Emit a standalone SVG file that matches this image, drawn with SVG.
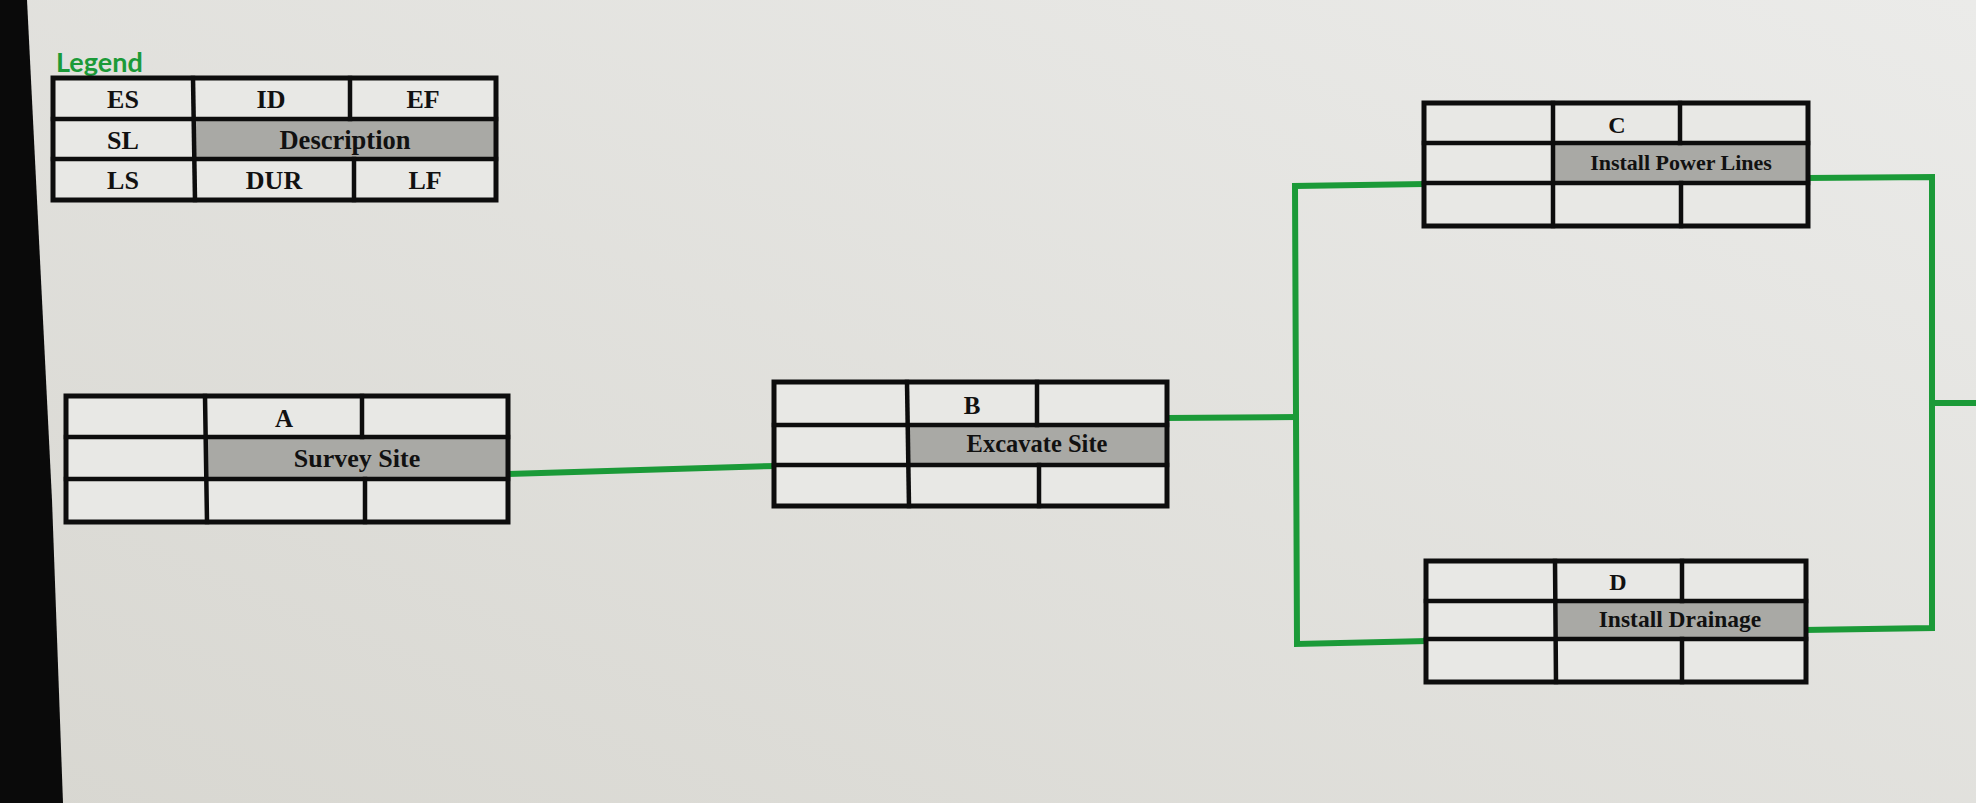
<svg xmlns="http://www.w3.org/2000/svg" width="1976" height="803" viewBox="0 0 1976 803">
<defs>
<linearGradient id="bg" x1="1" y1="0" x2="0" y2="1">
<stop offset="0" stop-color="#ebebe9"/>
<stop offset="1" stop-color="#d8d7d1"/>
</linearGradient>
<style>
.cell{fill:#e8e8e5;stroke:none}
.desc{fill:#a9a9a5;stroke:none}
.ln{stroke:#0d0d0d;stroke-width:4.5;fill:none;stroke-linecap:square}
.box{fill:none;stroke:#0d0d0d;stroke-width:5}
.t{font-family:"Liberation Serif","Times New Roman",serif;font-weight:bold;fill:#111;text-anchor:middle}
.conn{fill:none;stroke:#1b9a38;stroke-width:6;stroke-linejoin:miter;stroke-linecap:square}
</style>
</defs>
<rect x="0" y="0" width="1976" height="803" fill="url(#bg)"/>
<polygon points="0,0 27,0 52,500 63,803 0,803" fill="#0a0a0a"/>

<text x="56" y="72" font-family="Lato,'Open Sans',sans-serif" font-weight="bold" font-size="27" fill="#1b9a38">Legend</text>

<g id="legend">
<rect class="cell" x="53" y="78" width="443" height="122"/>
<rect class="desc" x="193" y="119" width="303" height="40"/>
<line class="ln" x1="53" y1="119" x2="496" y2="119"/>
<line class="ln" x1="53" y1="159" x2="496" y2="159"/>
<line class="ln" x1="193" y1="78" x2="195" y2="200"/>
<line class="ln" x1="350" y1="78" x2="350" y2="119"/>
<line class="ln" x1="354" y1="159" x2="354" y2="200"/>
<rect class="box" x="53" y="78" width="443" height="122"/>
<text class="t" x="123" y="108" font-size="26">ES</text>
<text class="t" x="271" y="108" font-size="26">ID</text>
<text class="t" x="423" y="108" font-size="26">EF</text>
<text class="t" x="123" y="149" font-size="26">SL</text>
<text class="t" x="345" y="149" font-size="26.5">Description</text>
<text class="t" x="123" y="189" font-size="26">LS</text>
<text class="t" x="274" y="189" font-size="26">DUR</text>
<text class="t" x="425" y="189" font-size="26">LF</text>
</g>

<g id="connectors">
<path class="conn" d="M508,474 L774,466"/>
<path class="conn" d="M1167,418 L1295,417"/>
<path class="conn" d="M1424,184 L1295,186 L1297,644 L1425,641"/>
<path class="conn" d="M1808,178 L1932,177 L1932,628 L1806,630"/>
<path class="conn" d="M1932,403 L1976,403"/>
</g>

<g id="node-A">
<rect class="cell" x="66" y="396" width="442" height="126"/>
<rect class="desc" x="205" y="437" width="303" height="42"/>
<line class="ln" x1="66" y1="437" x2="508" y2="437"/>
<line class="ln" x1="66" y1="479" x2="508" y2="479"/>
<line class="ln" x1="205" y1="396" x2="207" y2="522"/>
<line class="ln" x1="362" y1="396" x2="362" y2="437"/>
<line class="ln" x1="365" y1="479" x2="365" y2="522"/>
<rect class="box" x="66" y="396" width="442" height="126"/>
<text class="t" x="284" y="427" font-size="25">A</text>
<text class="t" x="357" y="467" font-size="26">Survey Site</text>
</g>

<g id="node-B">
<rect class="cell" x="774" y="382" width="393" height="124"/>
<rect class="desc" x="907" y="425" width="260" height="40"/>
<line class="ln" x1="774" y1="425" x2="1167" y2="425"/>
<line class="ln" x1="774" y1="465" x2="1167" y2="465"/>
<line class="ln" x1="907" y1="382" x2="909" y2="506"/>
<line class="ln" x1="1037" y1="382" x2="1037" y2="425"/>
<line class="ln" x1="1039" y1="465" x2="1039" y2="506"/>
<rect class="box" x="774" y="382" width="393" height="124"/>
<text class="t" x="972" y="414" font-size="25">B</text>
<text class="t" x="1037" y="452" font-size="24.5">Excavate Site</text>
</g>

<g id="node-C">
<rect class="cell" x="1424" y="103" width="384" height="123"/>
<rect class="desc" x="1553" y="143" width="255" height="40"/>
<line class="ln" x1="1424" y1="143" x2="1808" y2="143"/>
<line class="ln" x1="1424" y1="183" x2="1808" y2="183"/>
<line class="ln" x1="1553" y1="103" x2="1553" y2="226"/>
<line class="ln" x1="1680" y1="103" x2="1680" y2="143"/>
<line class="ln" x1="1681" y1="183" x2="1681" y2="226"/>
<rect class="box" x="1424" y="103" width="384" height="123"/>
<text class="t" x="1617" y="133" font-size="24">C</text>
<text class="t" x="1681" y="170" font-size="22">Install Power Lines</text>
</g>

<g id="node-D">
<rect class="cell" x="1426" y="561" width="380" height="121"/>
<rect class="desc" x="1555" y="601" width="251" height="38"/>
<line class="ln" x1="1426" y1="601" x2="1806" y2="601"/>
<line class="ln" x1="1426" y1="639" x2="1806" y2="639"/>
<line class="ln" x1="1555" y1="561" x2="1556" y2="682"/>
<line class="ln" x1="1682" y1="561" x2="1682" y2="601"/>
<line class="ln" x1="1682" y1="639" x2="1682" y2="682"/>
<rect class="box" x="1426" y="561" width="380" height="121"/>
<text class="t" x="1618" y="590" font-size="24">D</text>
<text class="t" x="1680" y="627" font-size="23.5">Install Drainage</text>
</g>
</svg>
